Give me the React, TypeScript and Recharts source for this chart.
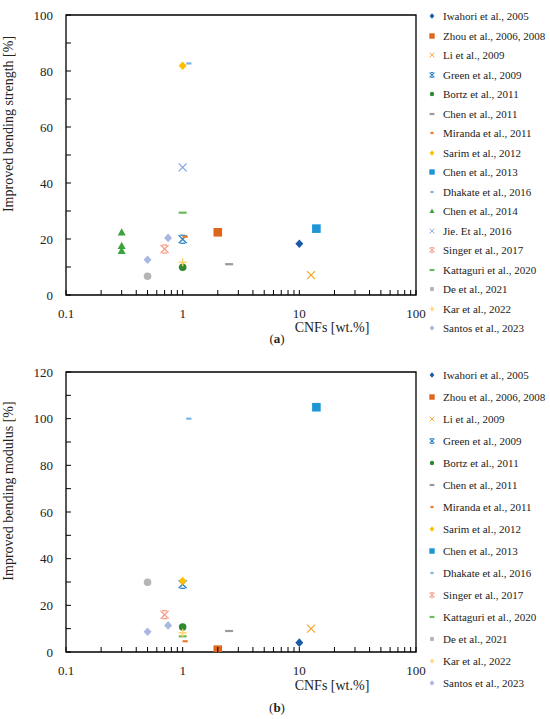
import React from 'react';
import { ScatterChart, Scatter, XAxis, YAxis, ReferenceArea } from 'recharts';

// ---- data: (a) improved bending strength [%] vs CNFs [wt.%]
const iwahoriStrength = [{ x: 10, y: 18.3 }];
const zhouStrength = [{ x: 2, y: 22.4 }];
const liStrength = [{ x: 12.6, y: 7.1 }];
const greenStrength = [{ x: 1, y: 19.9 }];
const bortzStrength = [{ x: 1, y: 9.9 }];
const chen2011Strength = [{ x: 2.5, y: 11 }];
const mirandaStrength = [{ x: 1.05, y: 20.8 }];
const sarimStrength = [{ x: 1, y: 81.9 }];
const chen2013Strength = [{ x: 14, y: 23.7 }];
const dhakateStrength = [{ x: 1.13, y: 82.7 }];
const chen2014Strength = [{ x: 0.3, y: 22.4 }, { x: 0.3, y: 17.6 }, { x: 0.3, y: 15.8 }];
const jieStrength = [{ x: 1, y: 45.6 }];
const singerStrength = [{ x: 0.7, y: 16.4 }];
const kattaguriStrength = [{ x: 1, y: 29.4 }];
const deStrength = [{ x: 0.5, y: 6.7 }];
const karStrength = [{ x: 1, y: 11.7 }];
const santosStrength = [{ x: 0.5, y: 12.6 }, { x: 0.75, y: 20.4 }];

// ---- data: (b) improved bending modulus [%] vs CNFs [wt.%]
const iwahoriModulus = [{ x: 10, y: 4 }];
const zhouModulus = [{ x: 2, y: 1 }];
const liModulus = [{ x: 12.6, y: 10 }];
const greenModulus = [{ x: 1, y: 29 }];
const bortzModulus = [{ x: 1, y: 10.7 }];
const chen2011Modulus = [{ x: 2.5, y: 9 }];
const mirandaModulus = [{ x: 1.05, y: 4.6 }];
const sarimModulus = [{ x: 1, y: 30.4 }];
const chen2013Modulus = [{ x: 14, y: 104.9 }];
const dhakateModulus = [{ x: 1.13, y: 100 }];
const singerModulus = [{ x: 0.7, y: 16 }];
const kattaguriModulus = [{ x: 1, y: 6.7 }];
const deModulus = [{ x: 0.5, y: 29.9 }];
const karModulus = [{ x: 1, y: 8.2 }];
const santosModulus = [{ x: 0.5, y: 8.7 }, { x: 0.75, y: 11.4 }];

const xTicks = [0.1, 0.2, 0.3, 0.4, 0.5, 0.6, 0.7, 0.8, 0.9, 1, 2, 3, 4, 5, 6, 7, 8, 9, 10, 20, 30, 40, 50, 60, 70, 80, 90, 100];
const xLabelTicks = [0.1, 1, 10, 100];
const strengthTicks = [0, 10, 20, 30, 40, 50, 60, 70, 80, 90, 100];
const modulusTicks = [0, 10, 20, 30, 40, 50, 60, 70, 80, 90, 100, 110, 120];

// marker look per study
const styles: Record<string, { color: string; kind: string }> = {
  'Iwahori et al., 2005': { color: '#1a5aa6', kind: 'diamond' },
  'Zhou et al., 2006, 2008': { color: '#e0661c', kind: 'square' },
  'Li et al., 2009': { color: '#f3a41f', kind: 'x' },
  'Green et al., 2009': { color: '#2a86c4', kind: 'star' },
  'Bortz et al., 2011': { color: '#2f8a2f', kind: 'circle' },
  'Chen et al., 2011': { color: '#9a9a9a', kind: 'dash' },
  'Miranda et al., 2011': { color: '#f07a2c', kind: 'shortdash' },
  'Sarim et al., 2012': { color: '#ffbf00', kind: 'diamond' },
  'Chen et al., 2013': { color: '#1e96d6', kind: 'square' },
  'Dhakate et al., 2016': { color: '#7cb3e4', kind: 'shortdash' },
  'Chen et al., 2014': { color: '#3aa33a', kind: 'triangle' },
  'Jie. Et al., 2016': { color: '#7aa2e4', kind: 'x' },
  'Singer et al., 2017': { color: '#f8a08a', kind: 'star' },
  'Kattaguri et al., 2020': { color: '#6cbb5a', kind: 'dash' },
  'De et al., 2021': { color: '#b5b5b5', kind: 'circle' },
  'Kar et al., 2022': { color: '#ffcf6a', kind: 'plus' },
  'Santos et al., 2023': { color: '#a9b8e3', kind: 'diamond' },
};

const strengthSeries = [
  { name: 'Iwahori et al., 2005', data: iwahoriStrength },
  { name: 'Zhou et al., 2006, 2008', data: zhouStrength },
  { name: 'Li et al., 2009', data: liStrength },
  { name: 'Green et al., 2009', data: greenStrength },
  { name: 'Bortz et al., 2011', data: bortzStrength },
  { name: 'Chen et al., 2011', data: chen2011Strength },
  { name: 'Miranda et al., 2011', data: mirandaStrength },
  { name: 'Sarim et al., 2012', data: sarimStrength },
  { name: 'Chen et al., 2013', data: chen2013Strength },
  { name: 'Dhakate et al., 2016', data: dhakateStrength },
  { name: 'Chen et al., 2014', data: chen2014Strength },
  { name: 'Jie. Et al., 2016', data: jieStrength },
  { name: 'Singer et al., 2017', data: singerStrength },
  { name: 'Kattaguri et al., 2020', data: kattaguriStrength },
  { name: 'De et al., 2021', data: deStrength },
  { name: 'Kar et al., 2022', data: karStrength },
  { name: 'Santos et al., 2023', data: santosStrength },
];

const modulusSeries = [
  { name: 'Iwahori et al., 2005', data: iwahoriModulus },
  { name: 'Zhou et al., 2006, 2008', data: zhouModulus },
  { name: 'Li et al., 2009', data: liModulus },
  { name: 'Green et al., 2009', data: greenModulus },
  { name: 'Bortz et al., 2011', data: bortzModulus },
  { name: 'Chen et al., 2011', data: chen2011Modulus },
  { name: 'Miranda et al., 2011', data: mirandaModulus },
  { name: 'Sarim et al., 2012', data: sarimModulus },
  { name: 'Chen et al., 2013', data: chen2013Modulus },
  { name: 'Dhakate et al., 2016', data: dhakateModulus },
  { name: 'Singer et al., 2017', data: singerModulus },
  { name: 'Kattaguri et al., 2020', data: kattaguriModulus },
  { name: 'De et al., 2021', data: deModulus },
  { name: 'Kar et al., 2022', data: karModulus },
  { name: 'Santos et al., 2023', data: santosModulus },
];

const FONT = '"Liberation Serif", "DejaVu Serif", serif';

const Marker = ({ kind, cx, cy, color, k = 1 }: any) => {
  if (cx == null || cy == null) return null;
  const s = 4 * k;
  switch (kind) {
    case 'diamond':
      return <polygon points={`${cx},${cy - s - 0.3} ${cx + s},${cy} ${cx},${cy + s + 0.3} ${cx - s},${cy}`} fill={color} />;
    case 'square':
      return <rect x={cx - s - 0.3} y={cy - s - 0.3} width={2 * s + 0.6} height={2 * s + 0.6} fill={color} />;
    case 'circle':
      return <circle cx={cx} cy={cy} r={s - 0.2} fill={color} />;
    case 'triangle':
      return <polygon points={`${cx},${cy - s} ${cx + s},${cy + s * 0.8} ${cx - s},${cy + s * 0.8}`} fill={color} />;
    case 'x':
      return (
        <g stroke={color} strokeWidth={1.1 * Math.max(k, 0.8)}>
          <line x1={cx - s} y1={cy - s} x2={cx + s} y2={cy + s} />
          <line x1={cx - s} y1={cy + s} x2={cx + s} y2={cy - s} />
        </g>
      );
    case 'star':
      return (
        <g stroke={color} strokeWidth={1.3 * Math.max(k, 0.8)}>
          <line x1={cx - s} y1={cy - s} x2={cx + s} y2={cy + s} />
          <line x1={cx - s} y1={cy + s} x2={cx + s} y2={cy - s} />
          <line x1={cx - s * 0.6} y1={cy - s} x2={cx + s * 0.6} y2={cy - s} />
          <line x1={cx - s * 0.6} y1={cy + s} x2={cx + s * 0.6} y2={cy + s} />
        </g>
      );
    case 'plus':
      return (
        <g stroke={color} strokeWidth={1.4 * Math.max(k, 0.8)}>
          <line x1={cx - s} y1={cy} x2={cx + s} y2={cy} />
          <line x1={cx} y1={cy - s} x2={cx} y2={cy + s} />
        </g>
      );
    case 'dash':
      return <rect x={cx - s} y={cy - 1.1} width={2 * s} height={2.2} fill={color} />;
    case 'shortdash':
      return <rect x={cx - s * 0.65} y={cy - 1.1} width={1.3 * s} height={2.2} fill={color} />;
    default:
      return null;
  }
};

const LogTick = ({ x, y, payload }: any) => {
  const v = payload.value;
  const showLabel = xLabelTicks.includes(v);
  return (
    <g>
      <line x1={x} y1={y} x2={x} y2={y - 5} stroke="#000" strokeWidth={1} />
      {showLabel && (
        <text x={x} y={y + 22.5} textAnchor="middle" fontSize={13} fill="#222" fontFamily={FONT}>
          {String(v)}
        </text>
      )}
    </g>
  );
};

const ValueTick = ({ x, y, payload }: any) => (
  <g>
    <line x1={x} y1={y} x2={x + 5} y2={y} stroke="#000" strokeWidth={1} />
    {payload.value % 20 === 0 && (
      <text x={x - 13} y={y + 4.5} textAnchor="end" fontSize={13} fill="#222" fontFamily={FONT}>
        {payload.value}
      </text>
    )}
  </g>
);

const YTitle = ({ title, px, py }: any) => (
  <text
    x={px}
    y={py}
    transform={`rotate(-90 ${px} ${py})`}
    textAnchor="middle"
    fontSize={14}
    fill="#222"
    fontFamily={FONT}
  >
    {title}
  </text>
);

const XTitle = ({ title, px, py }: any) => (
  <text x={px} y={py} textAnchor="middle" fontSize={14} fill="#222" fontFamily={FONT}>
    {title}
  </text>
);

const Panel = ({ series, yTicks, yMax, yTitle, top, height, yTitleY, xTitleY }: any) => (
  <ScatterChart width={550} height={height} margin={{ top, right: 134, bottom: 5, left: 26 }}>
    <XAxis
      dataKey="x"
      type="number"
      scale="log"
      domain={[0.1, 100]}
      ticks={xTicks}
      interval={0}
      allowDataOverflow
      tick={<LogTick />}
      tickLine={false}
      axisLine={false}
      tickSize={0}
      tickMargin={0}
      height={40}
      label={<XTitle title="CNFs [wt.%]" px={332} py={xTitleY} />}
    />
    <YAxis
      dataKey="y"
      type="number"
      domain={[0, yMax]}
      ticks={yTicks}
      interval={0}
      allowDataOverflow
      tick={<ValueTick />}
      tickLine={false}
      axisLine={false}
      tickSize={0}
      tickMargin={0}
      width={40}
      label={<YTitle title={yTitle} px={13} py={yTitleY} />}
    />
    <ReferenceArea x1={0.1} x2={100} y1={0} y2={yMax} fill="none" fillOpacity={0} stroke="#000" strokeWidth={1.3} />
    {series.map((s: any) => (
      <Scatter
        key={s.name}
        name={s.name}
        data={s.data}
        isAnimationActive={false}
        shape={(p: any) => <Marker kind={styles[s.name].kind} color={styles[s.name].color} cx={p.cx} cy={p.cy} />}
      />
    ))}
  </ScatterChart>
);

const LegendList = ({ series, first, step }: any) => (
  <>
    {series.map((s: any, i: number) => (
      <div
        key={s.name}
        style={{
          position: 'absolute',
          left: 426,
          top: first + step * i - 8,
          height: 16,
          display: 'flex',
          alignItems: 'center',
          whiteSpace: 'nowrap',
          fontSize: 11,
          color: '#222',
        }}
      >
        <svg width={12} height={12} style={{ display: 'block' }}>
          <Marker kind={styles[s.name].kind} color={styles[s.name].color} cx={6} cy={6} k={0.6} />
        </svg>
        <span style={{ marginLeft: 5 }}>{s.name}</span>
      </div>
    ))}
  </>
);

export default function App() {
  return (
    <div
      style={{
        position: 'absolute',
        left: 0,
        top: 0,
        width: 550,
        height: 719,
        background: '#fff',
        fontFamily: FONT,
        overflow: 'hidden',
      }}
    >
      <div style={{ position: 'absolute', left: 0, top: 0 }}>
        <Panel
          series={strengthSeries}
          yTicks={strengthTicks}
          yMax={100}
          yTitle="Improved bending strength [%]"
          top={15}
          height={340}
          yTitleY={124}
          xTitleY={331.5}
        />
      </div>
      <LegendList series={strengthSeries} first={16} step={19.5} />
      <div style={{ position: 'absolute', left: 262, top: 331, width: 30, textAlign: 'center', fontSize: 13, color: '#222' }}>
        (<b>a</b>)
      </div>

      <div style={{ position: 'absolute', left: 0, top: 350 }}>
        <Panel
          series={modulusSeries}
          yTicks={modulusTicks}
          yMax={120}
          yTitle="Improved bending modulus [%]"
          top={22}
          height={347}
          yTitleY={141}
          xTitleY={339.5}
        />
      </div>
      <LegendList series={modulusSeries} first={375} step={22.02} />
      <div style={{ position: 'absolute', left: 262, top: 700, width: 30, textAlign: 'center', fontSize: 13, color: '#222' }}>
        (<b>b</b>)
      </div>
    </div>
  );
}
